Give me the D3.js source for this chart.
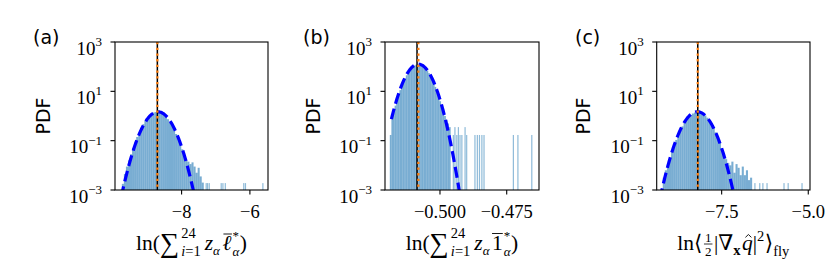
<!DOCTYPE html>
<html><head><meta charset="utf-8">
<script src="https://cdn.jsdelivr.net/npm/d3@7"></script>
<style>body{margin:0;background:#fff;} svg{display:block}</style>
</head><body>
<svg id="chart" width="830" height="277"></svg>
<script>
// ---------------- data ----------------
const yTickExps = [-3, -1, 1, 3];
const panelLetters = ["(a)", "(b)", "(c)"];

// panel (a)
const aDomain = [-9.95, -5.47];
const aTicks = [-8, -6];
const aTickLabels = ["\u22128", "\u22126"];
const aBodyStart = -9.75, aBinWidth = 0.06;
const aBodyLogPdf = [-2.75,-2.35,-2.05,-1.8,-1.55,-1.3,-1.08,-0.85,-0.66,-0.48,-0.33,-0.2,-0.08,0.02,0.09,0.14,0.16,0.17,0.15,0.11,0.05,-0.03,-0.13,-0.26,-0.4,-0.56,-0.73,-0.92,-1.12,-1.35,-1.6,-1.78,-1.85,-1.95,-1.88,-2.05,-2.3,-2.1,-2.45,-2.7];
const aTailX = [-7.28,-7.24,-7.19,-6.84,-6.79,-6.72,-6.18,-6.13,-5.62];
const aTailLogPdf = [-2.72,-2.72,-2.72,-2.72,-2.72,-2.72,-2.72,-2.72,-2.72];
const aTailWidth = 0.035;
const aFit = [-8.69, 0.27];          // mean, sigma of the Gaussian fit
const aCurveFrom = -9.95;
const aLines = [-8.71, -8.71];       // black reference, orange reference

// panel (b)
const bDomain = [-0.5206, -0.4629];
const bTicks = [-0.5, -0.475];
const bTickLabels = ["\u22120.500", "\u22120.475"];
const bBodyStart = -0.5188, bBinWidth = 0.0006;
const bBodyLogPdf = [-0.77,-0.05,0.2,0.42,0.65,0.85,1.05,1.22,1.38,1.52,1.65,1.76,1.86,1.94,2.0,2.05,2.08,2.1,2.1,2.08,2.04,1.98,1.92,1.84,1.74,1.62,1.5,1.35,1.18,0.98,0.75,0.6,0.45,0.3,0.0,-0.15,-0.3,-0.45];
const bTailX = [-0.4950,-0.4944,-0.4937,-0.4931,-0.4925,-0.4918,-0.4906,-0.4900,-0.4869,-0.4860,-0.4852,-0.4843,-0.4835,-0.4725,-0.4708,-0.4656];
const bTailLogPdf = [-0.77,-0.45,-0.77,-0.45,-0.77,-0.77,-0.45,-0.77,-0.77,-0.77,-0.77,-0.77,-0.77,-0.77,-0.77,-0.77];
const bTailWidth = 0.00045;
const bFit = [-0.5081, 0.00315];
const bCurveFrom = -0.5182;
const bLines = [-0.5086, -0.5081];

// panel (c)
const cDomain = [-9.375, -4.95];
const cTicks = [-7.5, -5.0];
const cTickLabels = ["\u22127.5", "\u22125.0"];
const cBodyStart = -9.20, cBinWidth = 0.06;
const cBodyLogPdf = [-2.5,-2.2,-1.95,-1.7,-1.45,-1.2,-0.97,-0.76,-0.58,-0.42,-0.27,-0.15,-0.05,0.04,0.1,0.14,0.16,0.16,0.13,0.09,0.02,-0.07,-0.19,-0.33,-0.48,-0.66,-0.86,-1.08,-1.3,-1.55,-1.75,-1.9,-2.0,-1.85,-2.3,-1.95,-2.1,-2.4,-2.05,-2.4,-2.2,-2.6,-2.5];
const cTailX = [-6.54,-6.40,-6.31,-6.19,-5.70,-5.58,-5.18];
const cTailLogPdf = [-2.72,-2.72,-2.72,-2.72,-2.72,-2.72,-2.72];
const cTailWidth = 0.035;
const cFit = [-8.20, 0.268];
const cCurveFrom = -9.375;
const cLines = [-8.19, -8.19];

// ---------------- drawing ----------------
const svg = d3.select("#chart");
const SERIF = "'Liberation Serif','DejaVu Serif',serif";
const SANS = "'DejaVu Sans',sans-serif";
const plotTop = 42, plotBottom = 190;
const y = d3.scaleLog().domain([1e-3, 1e3]).range([plotBottom, plotTop]);

const panels = [
  {left:115, right:268, domain:aDomain, ticks:aTicks, tickLabels:aTickLabels, start:aBodyStart, bw:aBinWidth, body:aBodyLogPdf,
   tailX:aTailX, tail:aTailLogPdf, tw:aTailWidth, fit:aFit, curveFrom:aCurveFrom, lines:aLines, letterX:33, pdfX:50, label:"a"},
  {left:385, right:539, domain:bDomain, ticks:bTicks, tickLabels:bTickLabels, start:bBodyStart, bw:bBinWidth, body:bBodyLogPdf,
   tailX:bTailX, tail:bTailLogPdf, tw:bTailWidth, fit:bFit, curveFrom:bCurveFrom, lines:bLines, letterX:303, pdfX:320, label:"b"},
  {left:656.7, right:810, domain:cDomain, ticks:cTicks, tickLabels:cTickLabels, start:cBodyStart, bw:cBinWidth, body:cBodyLogPdf,
   tailX:cTailX, tail:cTailLogPdf, tw:cTailWidth, fit:cFit, curveFrom:cCurveFrom, lines:cLines, letterX:575, pdfX:590, label:"c"}
];

function addText(g, t, x, yy, size, opts) {
  opts = opts || {};
  const el = g.append("text").attr("x", x).attr("y", yy)
    .attr("font-family", opts.family || SERIF).attr("font-size", size)
    .attr("font-style", opts.italic ? "italic" : "normal")
    .attr("font-weight", opts.bold ? "bold" : "normal")
    .attr("fill", "#000");
  if (Array.isArray(t)) {
    t.forEach(seg => el.append("tspan").attr("font-style", seg[1] ? "italic" : "normal").text(seg[0]));
  } else el.text(t);
  return el.node().getComputedTextLength();
}

// simple left-to-right math layout
function mathLabel(g, items, cx, by) {
  const grp = g.append("g");
  let x = 0;
  items.forEach(it => {
    if (it.scripts) {
      let w1 = 0, w2 = 0;
      if (it.sup) w1 = addText(grp, it.sup.t, x, by + it.sup.dy, it.sup.size, it.sup);
      if (it.sub) w2 = addText(grp, it.sub.t, x, by + it.sub.dy, it.sub.size, it.sub);
      x += Math.max(w1, w2) + (it.gap || 0);
    } else if (it.frac) {
      const s = it.size;
      const tmp = grp.append("g");
      const wn = addText(tmp, it.frac[0], 0, 0, s, {});
      const wd = addText(tmp, it.frac[1], 0, 0, s, {});
      tmp.remove();
      const w = Math.max(wn, wd) + 2;
      x += 1.5;
      addText(grp, it.frac[0], x + (w - wn) / 2, by - 8.5, s, {});
      addText(grp, it.frac[1], x + (w - wd) / 2, by + 6, s, {});
      grp.append("line").attr("x1", x).attr("x2", x + w).attr("y1", by - 6).attr("y2", by - 6)
        .attr("stroke", "#000").attr("stroke-width", 0.8);
      x += w + 1.5 + (it.gap || 0);
    } else {
      const w = addText(grp, it.t, x, by + (it.dy || 0), it.size, it);
      if (it.bar) {
        grp.append("line").attr("x1", x + it.bar[0]).attr("x2", x + w + it.bar[1])
          .attr("y1", by + it.bar[2]).attr("y2", by + it.bar[2]).attr("stroke", "#000").attr("stroke-width", 0.9);
      }
      if (it.hat) {
        const hx = x + w / 2 + it.hat[0], hy = by + it.hat[1];
        grp.append("path").attr("d", `M${hx - 3},${hy + 2.4}L${hx},${hy - 0.5}L${hx + 3},${hy + 2.4}`)
          .attr("fill", "none").attr("stroke", "#000").attr("stroke-width", 0.9);
      }
      x += w + (it.gap || 0);
    }
  });
  grp.attr("transform", `translate(${cx - x / 2},0)`);
}

const M = 21.5, S = 14.5, SS = 13;
const sub = (t, o) => Object.assign({t, size: S, dy: 5, italic: true}, o || {});
const sup = (t, o) => Object.assign({t, size: S, dy: -8, italic: false}, o || {});

const labelItems = {
  a: [
    {t: "ln(", size: M},
    {t: "\u2211", size: 27, dy: 2, gap: 2},
    {scripts: true, sup: sup("24", {dy: -12}), sub: sub([["i", true], ["=1", false]], {dy: 5.5}), gap: 4},
    {t: "z", size: M, italic: true},
    {scripts: true, sub: sub("\u03b1", {dy: 4.5, size: SS}), gap: 2.5},
    {t: "\u2113", size: M, italic: true, bar: [1, 0.5, -16], gap: 1},
    {scripts: true, sup: sup("*", {dy: -10.5, size: SS}), sub: sub("\u03b1", {dy: 5.5, size: SS}), gap: 0.5},
    {t: ")", size: M}
  ],
  b: [
    {t: "ln(", size: M},
    {t: "\u2211", size: 27, dy: 2, gap: 2},
    {scripts: true, sup: sup("24", {dy: -12}), sub: sub([["i", true], ["=1", false]], {dy: 5.5}), gap: 4},
    {t: "z", size: M, italic: true},
    {scripts: true, sub: sub("\u03b1", {dy: 4.5, size: SS}), gap: 2.5},
    {t: "1", size: M, bar: [0, 0, -16.5], gap: 1},
    {scripts: true, sup: sup("*", {dy: -10.5, size: SS}), sub: sub("\u03b1", {dy: 5.5, size: SS}), gap: 0.5},
    {t: ")", size: M}
  ],
  c: [
    {t: "ln\u27e8", size: M, gap: 0},
    {frac: ["1", "2"], size: 13},
    {t: "|\u2207", size: M},
    {scripts: true, sub: {t: "x", size: S, dy: 4.5, bold: true}, gap: 1.5},
    {t: "q", size: M, italic: true, hat: [1, -15]},
    {t: "|", size: M},
    {scripts: true, sup: sup("2", {dy: -9.5}), gap: 0.5},
    {t: "\u27e9", size: M},
    {scripts: true, sub: {t: "fly", size: S, dy: 5.5}, gap: 0}
  ]
};

panels.forEach((p, i) => {
  const x = d3.scaleLinear().domain(p.domain).range([p.left, p.right]);
  const g = svg.append("g");
  const clipId = "clip" + i;
  svg.append("clipPath").attr("id", clipId).append("rect")
    .attr("x", p.left).attr("y", plotTop).attr("width", p.right - p.left).attr("height", plotBottom - plotTop);
  const plot = g.append("g").attr("clip-path", `url(#${clipId})`);

  // histogram body
  plot.selectAll("rect.body").data(p.body).join("rect").attr("class", "body")
    .attr("x", (d, k) => x(p.start + k * p.bw))
    .attr("width", (d, k) => x(p.start + (k + 1) * p.bw) - x(p.start + k * p.bw))
    .attr("y", d => y(Math.pow(10, d)))
    .attr("height", d => plotBottom - y(Math.pow(10, d)))
    .attr("fill", "#1f77b4").attr("fill-opacity", 0.6);
  // sparse tail bins
  plot.selectAll("rect.tail").data(p.tailX).join("rect").attr("class", "tail")
    .attr("x", d => x(d - p.tw / 2))
    .attr("width", d => x(d + p.tw / 2) - x(d - p.tw / 2))
    .attr("y", (d, k) => y(Math.pow(10, p.tail[k])))
    .attr("height", (d, k) => plotBottom - y(Math.pow(10, p.tail[k])))
    .attr("fill", "#1f77b4").attr("fill-opacity", 0.5);

  // Gaussian fit
  const [mu, sg] = p.fit;
  const xs = d3.range(0, 301).map(k => p.curveFrom + (p.domain[1] - p.curveFrom) * k / 300);
  const pdf = v => Math.exp(-((v - mu) ** 2) / (2 * sg * sg)) / (sg * Math.sqrt(2 * Math.PI));
  const line = d3.line().x(v => x(v)).y(v => y(Math.max(pdf(v), 1e-5)));
  plot.append("path").datum(xs).attr("d", line).attr("fill", "none")
    .attr("stroke", "#0000ff").attr("stroke-width", 3.2).attr("stroke-dasharray", "11,5");

  // reference lines
  plot.append("line").attr("x1", x(p.lines[0])).attr("x2", x(p.lines[0])).attr("y1", plotTop).attr("y2", plotBottom)
    .attr("stroke", "#000").attr("stroke-width", 1.5);
  plot.append("line").attr("x1", x(p.lines[1])).attr("x2", x(p.lines[1])).attr("y1", plotTop).attr("y2", plotBottom)
    .attr("stroke", "#ff7f0e").attr("stroke-width", 2.3).attr("stroke-dasharray", "2.3,3.4");

  // frame
  g.append("rect").attr("x", p.left).attr("y", plotTop).attr("width", p.right - p.left).attr("height", plotBottom - plotTop)
    .attr("fill", "none").attr("stroke", "#000").attr("stroke-width", 1.1);

  // y ticks
  yTickExps.forEach(e => {
    const ty = y(Math.pow(10, e));
    g.append("line").attr("x1", p.left - 4.5).attr("x2", p.left).attr("y1", ty).attr("y2", ty)
      .attr("stroke", "#000").attr("stroke-width", 1.1);
    const lab = g.append("text").attr("font-family", SERIF).attr("fill", "#000");
    const t1 = lab.append("tspan").attr("x", 0).attr("y", ty + 12.5).attr("font-size", 19).text("10");
    lab.append("tspan").attr("y", ty + 4).attr("font-size", 13).text(e < 0 ? "\u2212" + (-e) : String(e));
    const w = lab.node().getComputedTextLength();
    t1.attr("x", p.left - 13 - w);
  });

  // x ticks
  p.ticks.forEach((t, k) => {
    const tx = x(t);
    g.append("line").attr("x1", tx).attr("x2", tx).attr("y1", plotBottom).attr("y2", plotBottom + 4.5)
      .attr("stroke", "#000").attr("stroke-width", 1.1);
    g.append("text").attr("x", tx).attr("y", 218).attr("text-anchor", "middle")
      .attr("font-family", SERIF).attr("font-size", 18.5).attr("fill", "#000").text(p.tickLabels[k]);
  });

  // PDF label
  g.append("text").attr("transform", `translate(${p.pdfX},${(plotTop + plotBottom) / 2}) rotate(-90)`)
    .attr("text-anchor", "middle").attr("font-family", SANS).attr("font-size", 19).attr("fill", "#000").text("PDF");

  // panel letter
  g.append("text").attr("x", p.letterX).attr("y", 44).attr("font-family", SANS).attr("font-size", 19)
    .attr("fill", "#000").text(panelLetters[i]);

  // x label
  mathLabel(g, labelItems[p.label], (p.left + p.right) / 2, 250);
});
</script>
</body></html>
